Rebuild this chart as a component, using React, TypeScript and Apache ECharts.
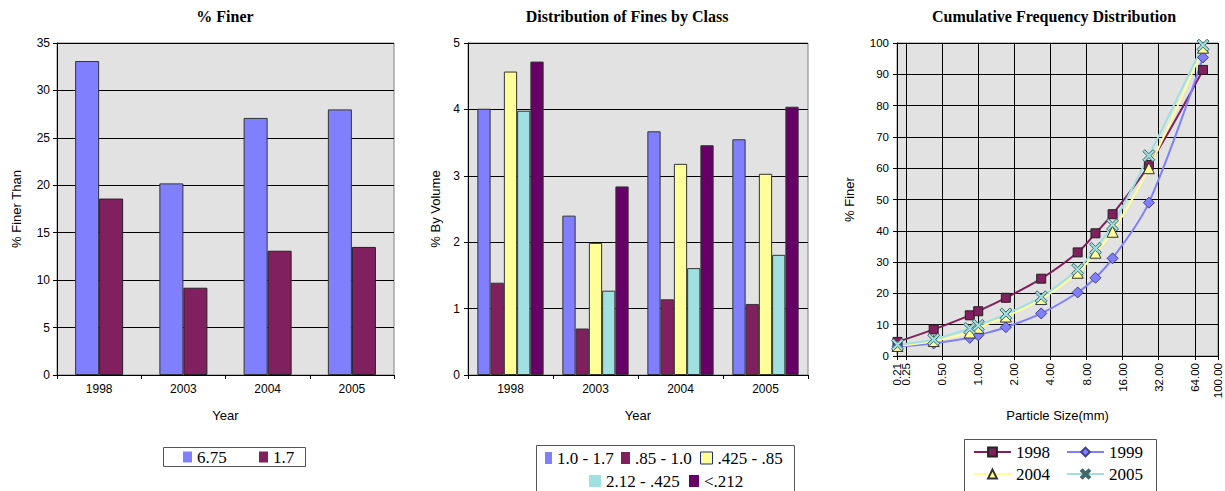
import React, { useEffect, useRef } from 'react';
import * as echarts from 'echarts';

// ---------- Data ----------
const years = ['1998', '2003', '2004', '2005'];
const finer675 = [33.1, 20.2, 27.1, 28.0];
const finer17 = [18.6, 9.2, 13.1, 13.5];

const classNames = ['1.0 - 1.7', '.85 - 1.0', '.425 - .85', '2.12 - .425', '<.212'];
const class10to17 = [4.01, 2.4, 3.67, 3.55];
const class085to10 = [1.39, 0.7, 1.14, 1.07];
const class0425to085 = [4.57, 1.99, 3.18, 3.03];
const class0212to0425 = [3.98, 1.27, 1.61, 1.81];
const classUnder0212 = [4.72, 2.84, 3.46, 4.04];

const sieveSizes = [0.212, 0.425, 0.85, 1.0, 1.7, 3.35, 6.75, 9.5, 13.2, 26.5, 75];
const cum1998 = [4.5, 8.5, 13.0, 14.3, 18.6, 24.7, 33.1, 39.2, 45.3, 61.0, 91.4];
const cum1999 = [3.0, 4.0, 5.8, 6.6, 9.2, 13.6, 20.3, 25.0, 31.2, 49.0, 95.4];
const cum2004 = [3.2, 4.8, 7.5, 9.0, 12.6, 18.2, 26.6, 33.0, 39.7, 60.0, 98.5];
const cum2005 = [3.6, 5.3, 8.8, 9.8, 13.4, 18.9, 27.7, 34.4, 41.9, 64.0, 99.3];
const cumYears = ['1998', '1999', '2004', '2005'];
const sizeMin = 0.21;
const sizeMax = 100;

// ---------- Styles ----------
const SANS = "'Liberation Sans', Arial, sans-serif";
const SERIF = "'Liberation Serif', 'Times New Roman', serif";
const PLOT_BG = '#E2E2E2';
const C_BLUE = '#8080FF';
const C_MAROON = '#80205F';
const C_YELLOW = '#FFFF99';
const C_CYAN = '#A0E0E0';
const C_PURPLE = '#660066';
const X_SYMBOL = 'path://M0,1.6L1.6,0L5,3.4L8.4,0L10,1.6L6.6,5L10,8.4L8.4,10L5,6.6L1.6,10L0,8.4L3.4,5Z';

const pairs = (ys: number[]) => sieveSizes.map((x, i) => [x, ys[i]]);

function buildOption(): any {
  const gridBase = {
    show: true,
    backgroundColor: PLOT_BG,
    borderColor: '#808080',
    borderWidth: 1,
    containLabel: false,
  };
  const splitBlack = { show: true, lineStyle: { color: '#000', width: 1 } };
  const axisLineBlack = { show: true, lineStyle: { color: '#000', width: 1 } };
  const tickOut = { show: true, inside: false, length: 4, lineStyle: { color: '#000' } };
  const lblSans = (size: number, margin: number) => ({ color: '#000', fontFamily: SANS, fontSize: size, margin });
  const nameStyle = { color: '#000', fontFamily: SANS, fontSize: 13 };

  const titleStyle = { color: '#000', fontFamily: SERIF, fontSize: 16, fontWeight: 'bold' };

  const legendBase = (name: any, left: number, top: number, extra: any = {}) => ({
    data: [name],
    left,
    top,
    padding: 0,
    itemGap: 0,
    icon: 'rect',
    itemWidth: 9,
    itemHeight: 11,
    selectedMode: false,
    itemStyle: { borderWidth: 0 },
    textStyle: { color: '#000', fontFamily: SERIF, fontSize: 17, lineHeight: 18 },
    ...extra,
  });
  const lineLegend = (name: string, left: number, top: number) => ({
    data: [name],
    left,
    top,
    padding: 0,
    itemGap: 0,
    itemWidth: 37,
    itemHeight: 11,
    selectedMode: false,
    textStyle: { color: '#000', fontFamily: SERIF, fontSize: 17, lineHeight: 18 },
  });

  const logAxisBase = {
    gridIndex: 2,
    type: 'log',
    logBase: 2,
    min: sizeMin,
    max: sizeMax,
    splitNumber: 9,
  };

  return {
    animation: false,
    backgroundColor: '#fff',
    textStyle: { fontFamily: SANS },
    title: [
      { text: '% Finer', left: 220, top: 3, textAlign: 'center', textStyle: titleStyle },
      { text: 'Distribution of Fines by Class', left: 622, top: 3, textAlign: 'center', textStyle: titleStyle },
      { text: 'Cumulative Frequency Distribution', left: 1049, top: 3, textAlign: 'center', textStyle: titleStyle },
    ],
    grid: [
      { ...gridBase, left: 57, top: 43, width: 337, height: 332 },
      { ...gridBase, left: 468, top: 43, width: 340, height: 332 },
      { ...gridBase, left: 897, top: 43, width: 321, height: 313 },
    ],
    xAxis: [
      {
        gridIndex: 0,
        type: 'category',
        data: years,
        boundaryGap: true,
        axisLine: axisLineBlack,
        axisTick: { ...tickOut, alignWithLabel: false },
        axisLabel: lblSans(12, 8),
        splitLine: { show: false },
        name: 'Year',
        nameLocation: 'middle',
        nameGap: 34,
        nameTextStyle: nameStyle,
      },
      {
        gridIndex: 1,
        type: 'category',
        data: years,
        boundaryGap: true,
        axisLine: axisLineBlack,
        axisTick: { ...tickOut, alignWithLabel: false },
        axisLabel: lblSans(12, 8),
        splitLine: { show: false },
        name: 'Year',
        nameLocation: 'middle',
        nameGap: 34,
        nameTextStyle: nameStyle,
      },
      {
        ...logAxisBase,
        axisLine: axisLineBlack,
        axisTick: tickOut,
        axisLabel: {
          ...lblSans(11.5, 7),
          rotate: 90,
          showMinLabel: true,
          showMaxLabel: true,
          hideOverlap: false,
          formatter: (v: number) => Number(v).toFixed(2),
        },
        splitLine: splitBlack,
        name: 'Particle Size(mm)',
        nameLocation: 'middle',
        nameGap: 53,
        nameTextStyle: nameStyle,
      },
      {
        // companion axis, only used to show the 0.25 label next to the 0.21 minimum
        ...logAxisBase,
        position: 'bottom',
        offset: 0,
        axisLine: { show: false },
        axisTick: tickOut,
        axisLabel: {
          ...lblSans(11.5, 7),
          rotate: 90,
          showMinLabel: false,
          showMaxLabel: false,
          hideOverlap: false,
          formatter: (v: number) => (v > 0.22 && v < 0.3 ? Number(v).toFixed(2) : ''),
        },
        splitLine: splitBlack,
      },
    ],
    yAxis: [
      {
        gridIndex: 0,
        type: 'value',
        min: 0,
        max: 35,
        interval: 5,
        axisLine: axisLineBlack,
        axisTick: tickOut,
        axisLabel: lblSans(12, 7),
        splitLine: splitBlack,
        name: '% Finer Than',
        nameLocation: 'middle',
        nameGap: 34,
        nameRotate: 90,
        nameTextStyle: nameStyle,
      },
      {
        gridIndex: 1,
        type: 'value',
        min: 0,
        max: 5,
        interval: 1,
        axisLine: axisLineBlack,
        axisTick: tickOut,
        axisLabel: lblSans(12, 8),
        splitLine: splitBlack,
        name: '% By Volume',
        nameLocation: 'middle',
        nameGap: 26,
        nameRotate: 90,
        nameTextStyle: nameStyle,
      },
      {
        gridIndex: 2,
        type: 'value',
        min: 0,
        max: 100,
        interval: 10,
        axisLine: axisLineBlack,
        axisTick: tickOut,
        axisLabel: lblSans(11.5, 8),
        splitLine: splitBlack,
        name: '% Finer',
        nameLocation: 'middle',
        nameGap: 41,
        nameRotate: 90,
        nameTextStyle: nameStyle,
      },
    ],
    legend: [
      legendBase('6.75', 183, 448),
      legendBase('1.7', 259, 448),
      legendBase(classNames[0], 545, 449, { itemWidth: 7, itemHeight: 12 }),
      legendBase(classNames[1], 621, 449, { itemWidth: 9, itemHeight: 12 }),
      legendBase(
        { name: classNames[2], itemStyle: { borderColor: '#203070', borderWidth: 1 } },
        700,
        449,
        { itemWidth: 12, itemHeight: 12, itemStyle: { borderColor: '#203070', borderWidth: 1 } }
      ),
      legendBase(classNames[3], 589, 472, { itemWidth: 12, itemHeight: 12 }),
      legendBase(classNames[4], 689, 472, { itemWidth: 10, itemHeight: 12 }),
      lineLegend(cumYears[0], 973, 443),
      lineLegend(cumYears[1], 1066, 443),
      lineLegend(cumYears[2], 973, 465),
      lineLegend(cumYears[3], 1066, 465),
    ],
    graphic: [
      { type: 'rect', z: 0, shape: { x: 163.5, y: 447.5, width: 142, height: 19 }, style: { fill: 'none', stroke: '#555', lineWidth: 1 } },
      { type: 'rect', z: 0, shape: { x: 536.5, y: 445.5, width: 258, height: 60 }, style: { fill: 'none', stroke: '#555', lineWidth: 1 } },
      { type: 'rect', z: 0, shape: { x: 964.5, y: 439.5, width: 192, height: 60 }, style: { fill: 'none', stroke: '#555', lineWidth: 1 } },
    ],
    series: [
      // Chart 1
      {
        name: '6.75', type: 'bar', xAxisIndex: 0, yAxisIndex: 0, data: finer675,
        barGap: '0%', barCategoryGap: '43%',
        itemStyle: { color: C_BLUE, borderColor: '#333', borderWidth: 1 },
      },
      {
        name: '1.7', type: 'bar', xAxisIndex: 0, yAxisIndex: 0, data: finer17,
        barGap: '0%', barCategoryGap: '43%',
        itemStyle: { color: C_MAROON, borderColor: '#222', borderWidth: 1 },
      },
      // Chart 2
      ...[
        [classNames[0], class10to17, C_BLUE],
        [classNames[1], class085to10, C_MAROON],
        [classNames[2], class0425to085, C_YELLOW],
        [classNames[3], class0212to0425, C_CYAN],
        [classNames[4], classUnder0212, C_PURPLE],
      ].map(([name, data, color]) => ({
        name, type: 'bar', xAxisIndex: 1, yAxisIndex: 1, data,
        barGap: '0%', barCategoryGap: '22%',
        itemStyle: { color, borderColor: '#333', borderWidth: 1 },
      })),
      // Chart 3
      {
        name: cumYears[0], type: 'line', xAxisIndex: 2, yAxisIndex: 2, data: pairs(cum1998),
        smooth: 0.35, symbol: 'rect', symbolSize: 9,
        lineStyle: { color: C_MAROON, width: 2 },
        itemStyle: { color: C_MAROON, borderColor: '#222', borderWidth: 1 },
      },
      {
        name: cumYears[1], type: 'line', xAxisIndex: 2, yAxisIndex: 2, data: pairs(cum1999),
        smooth: 0.35, symbol: 'diamond', symbolSize: 11,
        lineStyle: { color: C_BLUE, width: 2 },
        itemStyle: { color: C_BLUE, borderColor: '#404090', borderWidth: 1 },
      },
      {
        name: cumYears[2], type: 'line', xAxisIndex: 2, yAxisIndex: 2, data: pairs(cum2004),
        smooth: 0.35, symbol: 'triangle', symbolSize: 11,
        lineStyle: { color: C_YELLOW, width: 2 },
        itemStyle: { color: C_YELLOW, borderColor: '#333', borderWidth: 1 },
      },
      {
        name: cumYears[3], type: 'line', xAxisIndex: 2, yAxisIndex: 2, data: pairs(cum2005),
        smooth: 0.35, symbol: X_SYMBOL, symbolSize: 12,
        lineStyle: { color: C_CYAN, width: 2 },
        itemStyle: { color: C_CYAN, borderColor: '#406868', borderWidth: 1 },
      },
    ],
  };
}

export default function App() {
  const ref = useRef<HTMLDivElement>(null);
  useEffect(() => {
    if (!ref.current) return;
    const chart = echarts.init(ref.current, undefined, { renderer: 'svg' });
    chart.setOption(buildOption());
    return () => chart.dispose();
  }, []);
  return (
    <div
      ref={ref}
      style={{ position: 'fixed', left: 0, top: 0, width: 1225, height: 491, background: '#fff' }}
    />
  );
}
